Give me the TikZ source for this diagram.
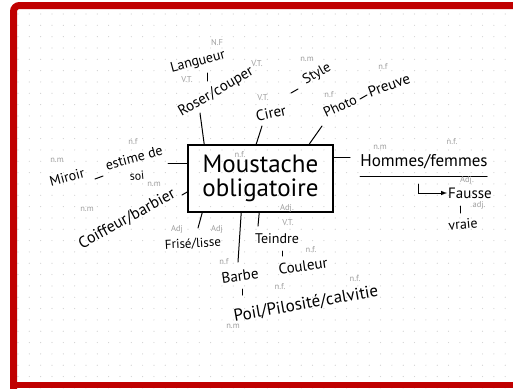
\documentclass[tikz,border=0pt]{standalone}
\usepackage{fontspec}
\setmainfont{PT Sans}
\usepackage{tikz}
\usepackage{xcolor}
\definecolor{bord}{HTML}{C00000}
\definecolor{pointe}{gray}{0.82}
\definecolor{gris}{gray}{0.62}

\begin{document}
\begin{tikzpicture}[x=1pt,y=-1pt,>=latex,
  mot/.style={font=\fontsize{14}{15}\selectfont,inner sep=1pt},
  gram/.style={font=\fontsize{8.5}{9}\selectfont,text=gris,inner sep=0pt},
  trait/.style={line width=1pt,line cap=round}]
    \useasboundingbox (0,0) rectangle (513,388);
    \fill[white] (0,0) rectangle (513,388);
    \foreach \i in {0,...,43}{
    \foreach \j in {0,...,33}{
    \fill[pointe] (18+11.33*\i,14+11.33*\j) circle (0.6pt);
    }
    }
    \draw[bord,line width=7pt,rounded corners=6pt] (513,5.5) -- (13.5,5.5) -- (13.5,392);
    \draw[bord,line width=6pt] (13.5,385) -- (513,385);
    % centre
    \node[draw,line width=1.6pt,minimum width=145pt,minimum height=67pt,align=center,font=\fontsize{25}{24}\selectfont] (mous) at (260.5,178.5) {Moustache\\obligatoire};
    % en haut
    \node[mot,rotate=15] (lang) at (198,62) {Langueur};
    \node[mot,rotate=30,font=\fontsize{15}{16}\selectfont] (roser) at (216,92) {Roser/couper};
    \node[mot,rotate=12,font=\fontsize{15}{16}\selectfont] (cirer) at (271,113) {Cirer};
    \node[mot,rotate=30] (style) at (317,74) {Style};
    \node[mot,rotate=25] (photo) at (340,106) {Photo};
    \node[mot,rotate=20,font=\fontsize{15}{16}\selectfont] (preuve) at (389,85) {Preuve};
    % a droite
    \node[mot,font=\fontsize{17}{18}\selectfont] (hom) at (424,162) {Hommes/femmes};
    \node[mot,font=\fontsize{15}{16}\selectfont] (fausse) at (470,193) {Fausse};
    \node[mot,rotate=5] (vraie) at (463,224) {vraie};
    % a gauche
    \node[mot,rotate=15] (estime) at (134,158) {estime de};
    \node[mot,rotate=5,font=\fontsize{12}{13}\selectfont] (soi) at (137,176) {soi};
    \node[mot,rotate=15] (miroir) at (67,177) {Miroir};
    \node[mot,rotate=29,font=\fontsize{16}{17}\selectfont] (coif) at (127,219) {Coiffeur/barbier};
    % en bas
    \node[mot,rotate=3,font=\fontsize{13}{14}\selectfont] (frise) at (193,244) {Frisé/lisse};
    \node[mot] (teindre) at (277,239) {Teindre};
    \node[mot,rotate=8,font=\fontsize{15}{16}\selectfont] (couleur) at (303,266) {Couleur};
    \node[mot,rotate=8,font=\fontsize{15}{16}\selectfont] (barbe) at (240,276) {Barbe};
    \node[mot,rotate=10,font=\fontsize{17}{18}\selectfont] (poil) at (306,304) {Poil/Pilosité/calvitie};
    % liens
    \draw[trait] ([xshift=17pt]mous.north west) -- (200,113) coordinate (pRoser);
    \draw[trait] ([xshift=69pt]mous.north west) -- (262,126) coordinate (pCirer);
    \draw[trait] ([xshift=122pt]mous.north west) -- (322,126) coordinate (pPhoto);
    \draw[trait] ([yshift=21.5pt]mous.east) -- (350,157) coordinate (pHom);
    \draw[trait] ([yshift=15.5pt]mous.west) -- (168,163) coordinate (pEstime);
    \draw[trait] ([yshift=-13.5pt]mous.west) -- (182,195) coordinate (pCoif);
    \draw[trait] ([xshift=15pt]mous.south west) -- (198,228) coordinate (pFrise);
    \draw[trait] ([xshift=54pt]mous.south west) -- (238,262) coordinate (pBarbe);
    \draw[trait] ([xshift=72pt]mous.south west) -- (258,226) coordinate (pTeindre);
    \coordinate (a1) at (207,73); \coordinate (a2) at (207,81);
    \coordinate (b1) at (291,93); \coordinate (b2) at (298,89);
    \coordinate (c1) at (360,99); \coordinate (c2) at (367,95);
    \coordinate (d1) at (95,179); \coordinate (d2) at (103,176);
    \coordinate (e1) at (242,289); \coordinate (e2) at (242,295);
    \coordinate (f1) at (282,251); \coordinate (f2) at (282,256);
    \coordinate (h1) at (460,206); \coordinate (h2) at (460,213);
    \coordinate (u1) at (360,176); \coordinate (u2) at (487,176);
    \coordinate (k1) at (418,184);
    \foreach \p/\q in {a1/a2,b1/b2,c1/c2,d1/d2,e1/e2,f1/f2,h1/h2,u1/u2}{
    \draw[trait] (\p) -- (\q);
    }
    \draw[trait,->] (k1) |- (fausse.west);
    % natures
    \foreach \x/\y/\t [count=\k] in {217/43/N.F,187/80/V.T.,257/64/V.T.,263/98/V.T.,307/59/n.m,329/95/n.f,383/67/n.f,
      380/147/n.m,452/142/n.f.,467/180/Adj.,479/205/adj.,133/142/n.f,57/160/n.m,154/184/n.m,87/209/n.m,
      177/229/Adj,217/229/Adj,288/223/V.T.,240/155/n.f.,287/208/Adj.,224/262/n.f,311/250/n.f.,280/287/n.f.,355/279/n.f.,233/326/n.m}{
    \node[gram] (g\k) at (\x,\y) {\t};
    }
\end{tikzpicture}
\end{document}
